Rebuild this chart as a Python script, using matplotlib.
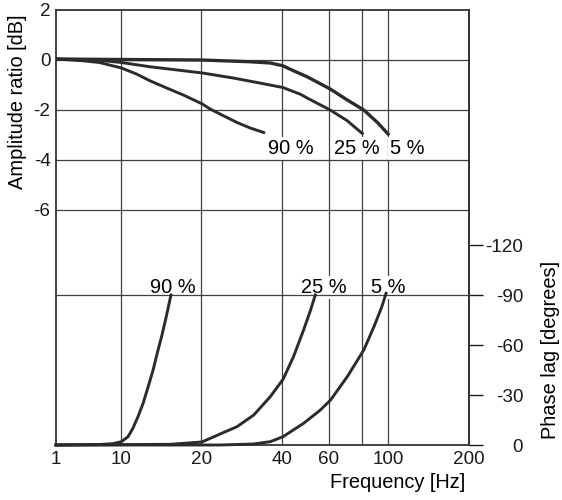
import numpy as np
import matplotlib
matplotlib.use('Agg')
import matplotlib.pyplot as plt
from matplotlib.ticker import NullLocator

plt.rcParams['font.family'] = ['Liberation Sans', 'DejaVu Sans']
plt.rcParams['axes.unicode_minus'] = False

# amplitude ratio [dB] vs frequency [Hz]
f_amp_90 = [1, 2.58, 4.7, 10.06, 11.45, 12.85, 14.84, 17.13, 20.18, 21.57, 24.19, 27.2, 30.45, 34.2]
amp_90 = [0.04, -0.03, -0.1, -0.32, -0.56, -0.83, -1.12, -1.4, -1.76, -1.96, -2.23, -2.5, -2.72, -2.9]
f_amp_25 = [1, 5, 10.06, 12.85, 20.2, 26.3, 32.3, 40.3, 46.9, 49.7, 60.6, 70.2, 79.9]
amp_25 = [0.04, -0.02, -0.1, -0.27, -0.52, -0.72, -0.9, -1.1, -1.37, -1.52, -2.0, -2.43, -2.94]
f_amp_5 = [1, 10, 20, 30.45, 36.2, 40.3, 44.2, 49.7, 60.6, 70.2, 80.9, 91, 99.7]
amp_5 = [0.04, 0.02, 0.0, -0.07, -0.12, -0.23, -0.43, -0.67, -1.16, -1.6, -2.0, -2.5, -2.96]

# phase lag [degrees] vs frequency [Hz]
f_ph_90 = [1, 4.7, 7.58, 10.06, 10.65, 11.1, 11.6, 12.12, 12.66, 13.21, 13.68, 14.21, 14.84, 15.4]
ph_90 = [0, -0.3, -0.8, -2, -5, -10, -17, -25, -35, -45, -55, -65, -78, -90]
f_ph_25 = [1, 15.26, 20.1, 23.5, 27.2, 31.4, 36.2, 40.4, 44.2, 48.2, 51.2, 53.3]
ph_25 = [0, -0.4, -1.8, -6.6, -11, -18, -29, -39.4, -53, -69, -81, -90]
f_ph_5 = [1, 23.5, 31.4, 36.2, 40.4, 48.2, 55.7, 60.8, 70.2, 80.9, 88.3, 94.5, 98]
ph_5 = [0, 0, -0.6, -2, -5, -13, -21, -27, -41, -57, -71, -83, -91]

xticks = [1, 10, 20, 40, 60, 100, 200]
xgrid = [10, 20, 40, 60, 80, 100]
amp_ticks = [2, 0, -2, -4, -6]
ph_ticks = [0, -30, -60, -90, -120]

# 1..10 squeezed, log above 10
k = 0.242
def fwd(x):
    x = np.clip(np.asarray(x, dtype=float), 1e-9, None)
    return np.where(x < 10, k*np.log10(x), k + np.log10(x/10))
def inv(u):
    u = np.asarray(u, dtype=float)
    return np.where(u < k, 10**(u/k), 10*10**(u - k))

col = '#2b2b2b'
gcol = '#404040'
fs = 13.6
fl = 14.4

fig = plt.figure(figsize=(5.62, 5.0), dpi=100)
ax = fig.add_axes([0.0996, 0.11, 0.7349, 0.87])
ax.set_xscale('function', functions=(fwd, inv))
ax.set_xlim(1, 200)
ax.set_ylim(-15.4, 2)
ax.set_xticks(xticks)
ax.set_xticklabels([str(v) for v in xticks])
ax.xaxis.set_minor_locator(NullLocator())
ax.set_yticks(amp_ticks)
ax.tick_params(axis='both', length=0, labelsize=fs, colors='#1a1a1a')
ax.tick_params(axis='x', pad=4)
ax.tick_params(axis='y', pad=4)
for s in ax.spines.values():
    s.set_linewidth(1.3)
    s.set_color('#333333')

for f in xgrid:
    ax.axvline(f, color=gcol, lw=0.9, zorder=1)
for a in amp_ticks[1:]:
    ax.axhline(a, color=gcol, lw=0.9, zorder=2.5)

ax.plot(f_amp_90, amp_90, color=col, lw=2.1, zorder=3)
ax.plot(f_amp_25, amp_25, color=col, lw=2.1, zorder=3)
ax.plot(f_amp_5, amp_5, color=col, lw=2.4, zorder=3)

box = dict(facecolor='white', edgecolor='none', pad=1.5)
ax.text(35.6, -3.75, '90 %', fontsize=fl, ha='left', va='baseline', bbox=box, zorder=1.5)
ax.text(62.4, -3.75, '25 %', fontsize=fl, ha='left', va='baseline', bbox=box, zorder=1.5)
ax.text(101, -3.75, '5 %', fontsize=fl, ha='left', va='baseline', bbox=box, zorder=1.5)

ax2 = ax.twinx()
ax2.set_ylim(0, -261)
ax2.set_yticks(ph_ticks)
ax2.set_yticklabels([str(v) for v in ph_ticks], ha='right')
ax2.tick_params(axis='y', direction='out', length=10, width=1.0, pad=29,
                labelsize=fs, colors='#1a1a1a')
for s in ax2.spines.values():
    s.set_visible(False)
ax2.spines['right'].set_visible(True)
ax2.spines['right'].set_linewidth(1.3)
ax2.spines['right'].set_color('#333333')

ax2.axhline(-90, color=gcol, lw=0.9, zorder=2.5)
ax2.plot(f_ph_90, ph_90, color=col, lw=2.1, zorder=3, clip_on=False)
ax2.plot(f_ph_25, ph_25, color=col, lw=2.1, zorder=3, clip_on=False)
ax2.plot(f_ph_5, ph_5, color=col, lw=2.1, zorder=3, clip_on=False)

ax2.text(12.85, -91.2, '90 %', fontsize=fl, ha='left', va='baseline', bbox=box, zorder=1.5)
ax2.text(47.2, -91.2, '25 %', fontsize=fl, ha='left', va='baseline', bbox=box, zorder=1.5)
ax2.text(86.4, -91.2, '5 %', fontsize=fl, ha='left', va='baseline', bbox=box, zorder=1.5)

fig.text(18/562, 1 - 102/500, 'Amplitude ratio [dB]', rotation=90, ha='center', va='center', fontsize=fl)
fig.text(551/562, 1 - 350/500, 'Phase lag [degrees]', rotation=90, ha='center', va='center', fontsize=fl)
fig.text(398/562, 1 - 483/500, 'Frequency [Hz]', ha='center', va='center', fontsize=fl)

fig.savefig('out.png', dpi=100)
